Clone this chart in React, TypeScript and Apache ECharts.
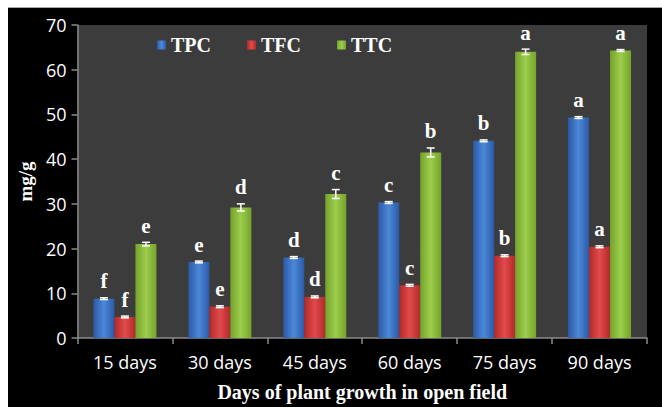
import React, { useEffect, useRef } from "react";
import * as echarts from "echarts";

const categories = ["15 days", "30 days", "45 days", "60 days", "75 days", "90 days"];
const seriesNames = ["TPC", "TFC", "TTC"];
const tpc = [8.8, 17.0, 18.0, 30.3, 44.1, 49.3];
const tfc = [4.7, 7.0, 9.2, 11.8, 18.4, 20.4];
const ttc = [21.0, 29.2, 32.2, 41.5, 64.0, 64.3];
const tpcErr = [0.2, 0.2, 0.2, 0.2, 0.2, 0.2];
const tfcErr = [0.2, 0.2, 0.2, 0.2, 0.2, 0.2];
const ttcErr = [0.4, 0.8, 1.0, 1.0, 0.6, 0.2];
const tpcLetters = ["f", "e", "d", "c", "b", "a"];
const tfcLetters = ["f", "e", "d", "c", "b", "a"];
const ttcLetters = ["e", "d", "c", "b", "a", "a"];
const yTicks = { min: 0, max: 70, interval: 10 };

const BAR_W = 21;
const SERIF = '"Liberation Serif", "Times New Roman", serif';
const SANS = '"Open Sans", "Noto Sans", sans-serif';

function grad(edge: string, mid: string) {
  return new echarts.graphic.LinearGradient(0, 0, 1, 0, [
    { offset: 0, color: edge },
    { offset: 0.5, color: mid },
    { offset: 1, color: edge },
  ]);
}

export default function App() {
  const ref = useRef<HTMLDivElement>(null);
  useEffect(() => {
    if (!ref.current) return;
    const chart = echarts.init(ref.current, null, { renderer: "svg" });
    const values = [tpc, tfc, ttc];
    const errs = [tpcErr, tfcErr, ttcErr];
    const letters = [tpcLetters, tfcLetters, ttcLetters];
    const colors = [
      grad("#2a5aa6", "#4c88d8"),
      grad("#b02a2a", "#e24a4a"),
      grad("#76a32c", "#9ccd4c"),
    ];
    const barSeries = seriesNames.map((name, i) => ({
      name,
      type: "bar",
      data: values[i],
      barWidth: BAR_W,
      barGap: "0%",
      itemStyle: { color: colors[i] },
      z: 2,
    }));
    const errSeries = seriesNames.map((name, i) => ({
      name: name + "_err",
      type: "custom",
      z: 5,
      clip: false,
      data: values[i].map((v, k) => [k, v, errs[i][k], letters[i][k]]),
      encode: { x: 0, y: 1 },
      renderItem: (params: any, api: any) => {
        const idx = api.value(0);
        const v = api.value(1);
        const e = api.value(2);
        const off = (i - 1) * BAR_W;
        const top = api.coord([idx, v + e]);
        const bot = api.coord([idx, v - e]);
        const x = top[0] + off;
        const cap = 4;
        const st = { stroke: "#ffffff", lineWidth: 1.5 };
        return {
          type: "group",
          children: [
            { type: "line", shape: { x1: x, y1: top[1], x2: x, y2: bot[1] }, style: st },
            { type: "line", shape: { x1: x - cap, y1: top[1], x2: x + cap, y2: top[1] }, style: st },
            { type: "line", shape: { x1: x - cap, y1: bot[1], x2: x + cap, y2: bot[1] }, style: st },
            {
              type: "text",
              x: x,
              y: top[1] - 6,
              style: {
                text: letters[i][idx],
                fill: "#ffffff",
                fontSize: 21,
                fontWeight: "bold",
                fontFamily: SERIF,
                align: "center",
                verticalAlign: "bottom",
              },
            },
          ],
        };
      },
    }));
    chart.setOption({
      animation: false,
      backgroundColor: "transparent",
      grid: {
        left: 66,
        top: 17,
        right: 15,
        bottom: 68,
        show: true,
        backgroundColor: "#3c3c3c",
        borderWidth: 0,
      },
      legend: {
        data: seriesNames,
        left: 144,
        top: 22,
        icon: "rect",
        itemWidth: 9,
        itemHeight: 9,
        itemGap: 36,
        textStyle: { color: "#ffffff", fontSize: 20, fontWeight: "bold", fontFamily: SERIF },
      },
      xAxis: {
        type: "category",
        data: categories,
        name: "Days of plant growth in open field",
        nameLocation: "middle",
        nameGap: 44,
        nameTextStyle: { color: "#ffffff", fontSize: 20, fontWeight: "bold", fontFamily: SERIF },
        axisLine: { show: true, lineStyle: { color: "#8a8a8a", width: 1.5 } },
        axisTick: { show: true, length: 6, lineStyle: { color: "#8a8a8a", width: 1.5 } },
        axisLabel: { color: "#ffffff", fontSize: 18, fontFamily: SANS, margin: 15 },
      },
      yAxis: {
        type: "value",
        min: yTicks.min,
        max: yTicks.max,
        interval: yTicks.interval,
        name: "mg/g",
        nameLocation: "middle",
        nameGap: 40,
        nameRotate: 90,
        nameTextStyle: { color: "#ffffff", fontSize: 19, fontWeight: "bold", fontFamily: SERIF },
        axisLine: { show: true, lineStyle: { color: "#8a8a8a", width: 1.5 } },
        axisTick: { show: true, length: 6, lineStyle: { color: "#8a8a8a", width: 1.5 } },
        splitLine: { show: false },
        axisLabel: { color: "#ffffff", fontSize: 18, fontFamily: SANS, margin: 11 },
      },
      series: [...barSeries, ...errSeries],
    });
    return () => chart.dispose();
  }, []);
  return (
    <div style={{ position: "fixed", left: 0, top: 0, width: 662, height: 407, background: "#ffffff" }}>
      <div
        style={{
          position: "absolute",
          left: 8,
          top: 7,
          width: 654,
          height: 400,
          background: "#000000",
          borderTop: "1px solid #a8a8a8",
          boxSizing: "border-box",
        }}
      >
        <div ref={ref} style={{ width: 654, height: 399 }} />
      </div>
    </div>
  );
}
